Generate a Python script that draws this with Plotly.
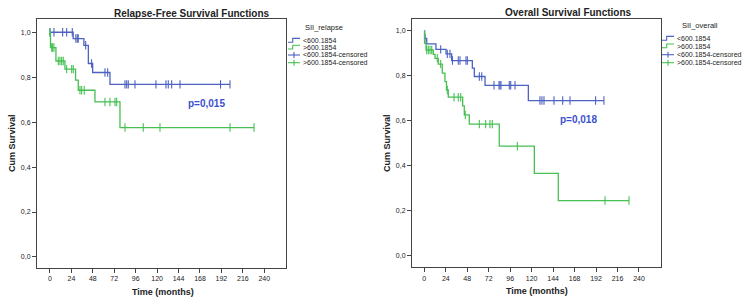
import numpy as np
import plotly.graph_objects as go

# ---------------- data ----------------
# Relapse-free survival, SII < 600.1854 (blue)
rfs_low_event_t = [26, 38, 43, 47.8, 67.2]
rfs_low_event_s = [0.972, 0.942, 0.861, 0.821, 0.768]
rfs_low_cens_t = [0, 4.5, 14.2, 18.7, 25, 29, 30.6, 31.7, 40, 46.6, 61.6, 64.6,
                  84, 85.9, 87.7, 95.2, 118.7, 129.9, 132.5, 136.3, 145.6, 191, 201.6]
# Relapse-free survival, SII > 600.1854 (green)
rfs_high_event_t = [0.6, 6.7, 16.8, 28.7, 31.7, 50.4, 78.4]
rfs_high_event_s = [0.932, 0.872, 0.836, 0.787, 0.742, 0.690, 0.576]
rfs_high_cens_t = [0, 1.9, 3, 4.5, 9.3, 11.2, 13.1, 14.9, 18.7, 24.3, 26.1, 33.6, 35.5,
                   38.4, 61.6, 67.2, 72.8, 74.7, 84, 104.5, 123.2, 201.6, 228.5]

# Overall survival, SII < 600.1854 (blue)
os_low_event_t = [0.3, 2.7, 13, 24.3, 30.6, 53.7, 55.9, 67.9, 116.3]
os_low_event_s = [0.967, 0.942, 0.918, 0.898, 0.868, 0.834, 0.797, 0.758, 0.690]
os_low_cens_t = [0.8, 18.3, 25.7, 28.7, 31.5, 38, 39.9, 46.6, 48.1, 61.5, 64.2, 77.9, 83.5,
                 84.6, 85.7, 95, 96.6, 101.4, 129.3, 131.5, 133.8, 145, 154.7, 162.9, 191.5, 200.8]
# Overall survival, SII > 600.1854 (green)
os_high_event_t = [0.3, 1.9, 10, 12, 15.6, 20.1, 23.1, 24.8, 26.8, 42.9, 44.7, 50.3, 83.8, 123, 149.8]
os_high_event_s = [0.945, 0.915, 0.896, 0.878, 0.852, 0.812, 0.774, 0.737, 0.705,
                   0.666, 0.626, 0.585, 0.487, 0.366, 0.245]
os_high_cens_t = [2.7, 4.5, 6.4, 8.3, 14.5, 18.3, 25.7, 33.2, 38, 40.7, 45.8, 61.5, 68.6,
                  73.4, 76, 104, 202, 228.8]

x_ticks = [0, 24, 48, 72, 96, 120, 144, 168, 192, 216, 240]
y_ticks = [0.0, 0.2, 0.4, 0.6, 0.8, 1.0]
group_labels = ["<600.1854", ">600.1854", "<600.1854-censored", ">600.1854-censored"]

BLUE = "#4d62c2"
GREEN = "#46c052"
TXT = "#222222"
FONT = "Arial, Liberation Sans, sans-serif"

fig = go.Figure()


def km_traces(ev_t, ev_s, cens_t, color, xa, ya):
    ev_t = list(ev_t)
    ev_s = list(ev_s)
    last = max(max(cens_t), ev_t[-1])
    xs = [0] + ev_t + [last]
    ys = [1.0] + ev_s + [ev_s[-1]]
    fig.add_trace(go.Scatter(x=xs, y=ys, mode="lines", line=dict(color=color, width=1.3, shape="hv"),
                             xaxis=xa, yaxis=ya, showlegend=False, hoverinfo="skip"))
    levels = np.array([1.0] + ev_s)
    idx = np.searchsorted(np.array(ev_t), np.array(cens_t), side="right")
    fig.add_trace(go.Scatter(x=cens_t, y=levels[idx], mode="markers",
                             marker=dict(symbol="line-ns", size=6, line=dict(color=color, width=1.1)),
                             xaxis=xa, yaxis=ya, showlegend=False, hoverinfo="skip"))


km_traces(rfs_low_event_t, rfs_low_event_s, rfs_low_cens_t, BLUE, "x", "y")
km_traces(rfs_high_event_t, rfs_high_event_s, rfs_high_cens_t, GREEN, "x", "y")
km_traces(os_low_event_t, os_low_event_s, os_low_cens_t, BLUE, "x2", "y2")
km_traces(os_high_event_t, os_high_event_s, os_high_cens_t, GREEN, "x2", "y2")

W, H = 750, 307


def px(x):
    return x / W


def py(y):
    return 1 - y / H


axis_common = dict(showline=True, mirror=True, linecolor="#444444", linewidth=1, showgrid=False,
                   zeroline=False, ticks="outside", ticklen=4, tickcolor="#444444",
                   tickfont=dict(family=FONT, size=7, color=TXT))

fig.update_layout(
    width=W, height=H, margin=dict(l=0, r=0, t=0, b=0),
    paper_bgcolor="white", plot_bgcolor="white", separators=",.",
    showlegend=False,
    xaxis=dict(domain=[px(37), px(286)], range=[-14.5, 264.3], tickvals=x_ticks, anchor="y", **axis_common),
    yaxis=dict(domain=[py(268), py(19)], range=[-0.049, 1.059], tickvals=y_ticks, tickformat=".1f",
               anchor="x", **axis_common),
    xaxis2=dict(domain=[px(412), px(661)], range=[-13.75, 264.6], tickvals=x_ticks, anchor="y2", **axis_common),
    yaxis2=dict(domain=[py(267.3), py(19)], range=[-0.052, 1.053], tickvals=y_ticks, tickformat=".1f",
                anchor="x2", **axis_common),
)

ann = []
shapes = []


def text(x, y, s, size=7, bold=False, color=TXT, angle=0, xanchor="center"):
    ann.append(dict(x=px(x), y=py(y), xref="paper", yref="paper", text=("<b>%s</b>" % s) if bold else s,
                    showarrow=False, xanchor=xanchor, yanchor="middle", textangle=angle,
                    font=dict(family=FONT, size=size, color=color)))


# titles
text(191, 13, "Relapse-Free Survival Functions", size=10, bold=True)
text(568.5, 12, "Overall Survival Functions", size=10, bold=True)
text(162.5, 292, "Time (months)", size=9, bold=True)
text(537, 291, "Time (months)", size=9, bold=True)
text(12, 143, "Cum Survival", size=9, bold=True, angle=-90)
text(387, 143, "Cum Survival", size=9, bold=True, angle=-90)
text(206, 104, "p=0,015", size=10, bold=True, color="#3a50cc")
text(578, 120, "p=0,018", size=10, bold=True, color="#3a50cc")


def legend(x0, title_x, title_y, title, ys):
    text(title_x, title_y, title, size=7.5)
    colors = [BLUE, GREEN, BLUE, GREEN]
    for i, (lab, yy) in enumerate(zip(group_labels, ys)):
        c = colors[i]
        if i < 2:
            path = "M %f %f L %f %f L %f %f L %f %f" % (
                px(x0), py(yy + 1.5), px(x0 + 4.7), py(yy + 1.5), px(x0 + 4.7), py(yy - 2.3), px(x0 + 12), py(yy - 2.3))
            shapes.append(dict(type="path", path=path, xref="paper", yref="paper",
                               line=dict(color=c, width=1.1)))
        else:
            shapes.append(dict(type="line", x0=px(x0), x1=px(x0 + 12), y0=py(yy), y1=py(yy),
                               xref="paper", yref="paper", line=dict(color=c, width=1.1)))
            shapes.append(dict(type="line", x0=px(x0 + 6), x1=px(x0 + 6), y0=py(yy - 3), y1=py(yy + 3),
                               xref="paper", yref="paper", line=dict(color=c, width=1.1)))
        text(x0 + 12.5, yy, lab, size=7, xanchor="left")


legend(288, 324, 27.5, "SII_relapse", [40.7, 47.5, 55, 62.7])
legend(662, 700, 25, "SII_overall", [38.7, 46.3, 54.7, 62.7])

fig.update_layout(annotations=ann, shapes=shapes)
fig.write_html("out.html", config={"displayModeBar": False},
               post_script="document.body.style.margin='0';document.body.style.overflow='hidden';")
